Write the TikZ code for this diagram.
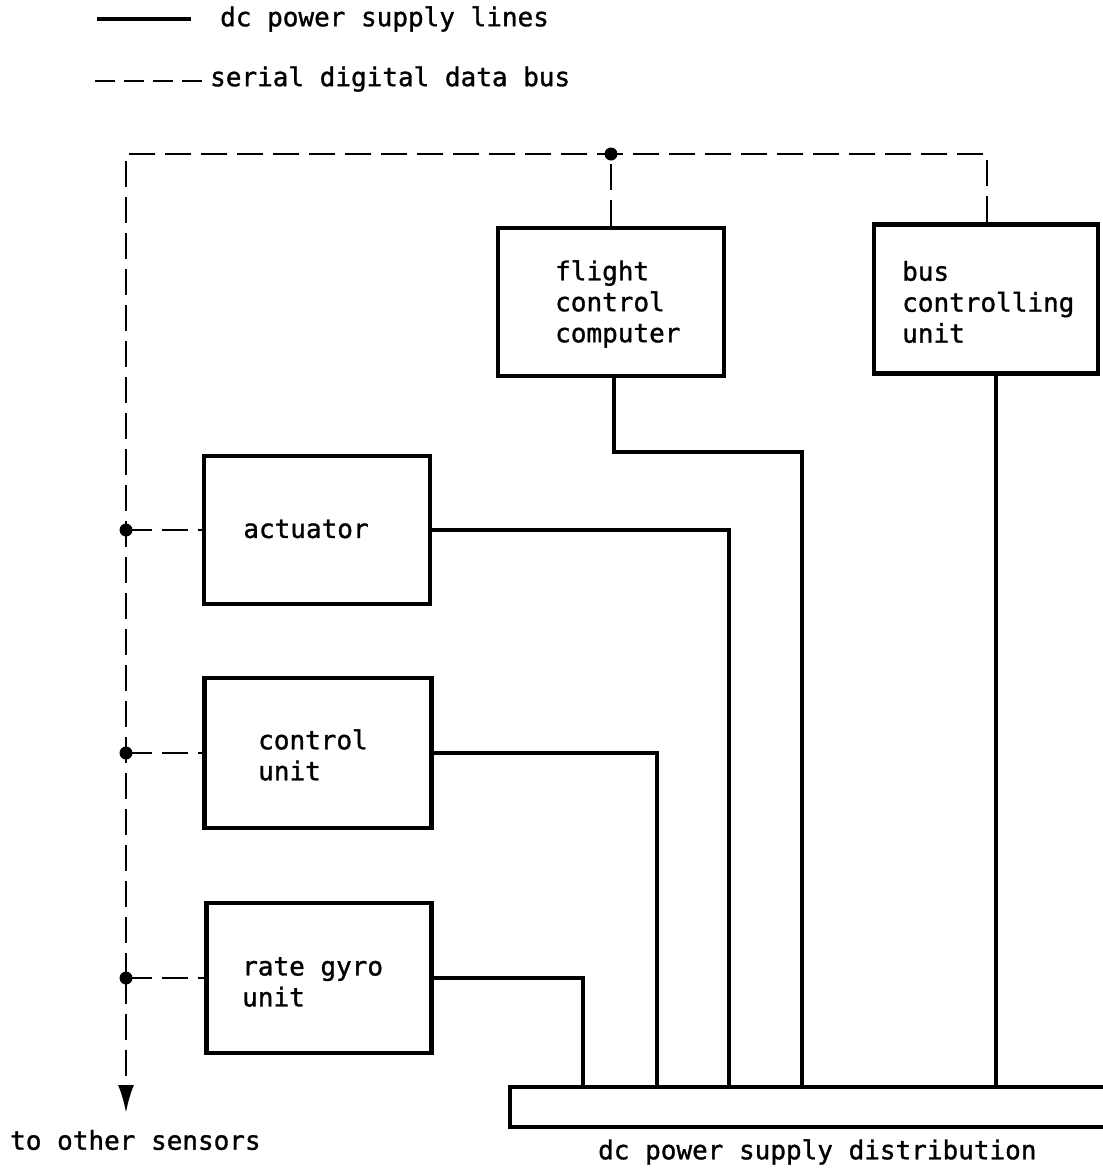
\documentclass[tikz,border=0pt]{standalone}
\usepackage{fontspec}
\setmonofont[FakeBold=1.2]{DejaVu Sans Mono}
\usetikzlibrary{arrows.meta}
\begin{document}
\begin{tikzpicture}[x=1pt,y=-1pt,
  box/.style={draw,line width=4.5pt,inner sep=0pt,line join=miter},
  pw/.style={line width=4pt},
  bus/.style={line width=2.8pt,dash pattern=on 26pt off 10pt},
  lbl/.style={inner sep=0pt,align=left,font=\fontsize{26}{31}\selectfont\ttfamily},
  jdot/.style={fill=black}]
\useasboundingbox (0,0) rectangle (1103,1176);
% legend
\node[lbl,anchor=west] (leg1) at (220,19) {dc power supply lines};
\node[lbl,anchor=west] (leg2) at (210,79) {serial digital data bus};
\draw[pw] ([xshift=-123pt]leg1.west) -- ([xshift=-29pt]leg1.west);
\draw[line width=2.8pt,dash pattern=on 20pt off 9pt] ([xshift=-115pt,yshift=-2pt]leg2.west) -- ([xshift=-6pt,yshift=-2pt]leg2.west);
% boxes
\node[box,minimum width=226pt,minimum height=148pt] (fcc) at (611,302) {};
\node[lbl,anchor=west] at (555,304) {flight\\control\\computer};
\node[box,minimum width=224pt,minimum height=149pt] (bcu) at (986,299) {};
\node[lbl,anchor=west] at (902,302) {bus\\controlling\\unit};
\node[box,minimum width=226pt,minimum height=148pt] (act) at (317,530) {};
\node[lbl] at (306,529) {actuator};
\node[box,minimum width=227pt,minimum height=150pt] (cu) at (318,753) {};
\node[lbl,anchor=west] at (258,755) {control\\unit};
\node[box,minimum width=225pt,minimum height=150pt] (rg) at (319,978) {};
\node[lbl,anchor=west] at (242,982) {rate gyro\\unit};
% distribution bar
\node[box,minimum width=600pt,minimum height=40pt] (bar) at (810,1107) {};
\node[lbl,anchor=west] (dist) at (598,1152) {dc power supply distribution};
\node[lbl,anchor=west] (oth) at (10,1140) {to other sensors};
% coordinates
\coordinate (tG) at (583,1087);
\coordinate (tC) at (657,1087);
\coordinate (tA) at (729,1087);
\coordinate (tF) at (802,1087);
\coordinate (tB) at (996,1087);
\coordinate (jT) at (611,154);
\coordinate (cTL) at (126,154);
\coordinate (cTR) at (987,154);
\coordinate (jA) at (126,530);
\coordinate (jC) at (126,753);
\coordinate (jG) at (126,978);
\coordinate (tip) at (126,1113);
% power lines
\draw[pw] (act.east) -| (tA);
\draw[pw] (cu.east) -| (tC);
\draw[pw] (rg.east) -| (tG);
\draw[pw] ([xshift=3pt]fcc.south) -- ++(0,74) -| (tF);
\draw[pw] (bcu.south -| tB) -- (tB);
% data bus
\draw[bus] (bcu.north -| cTR) -- (cTR) -- (cTL) -- (jG);
\draw[bus,-{Latex[length=28pt,width=16pt]}] (jG) -- (tip);
\draw[bus] (fcc.north) -- (jT);
\draw[bus] (jA) -- (act.west);
\draw[bus] (jC) -- (cu.west);
\draw[bus] (jG) -- (rg.west);
\foreach \j in {jT,jA,jC,jG} \fill[jdot] (\j) circle[radius=6.5pt];
\end{tikzpicture}
\end{document}
